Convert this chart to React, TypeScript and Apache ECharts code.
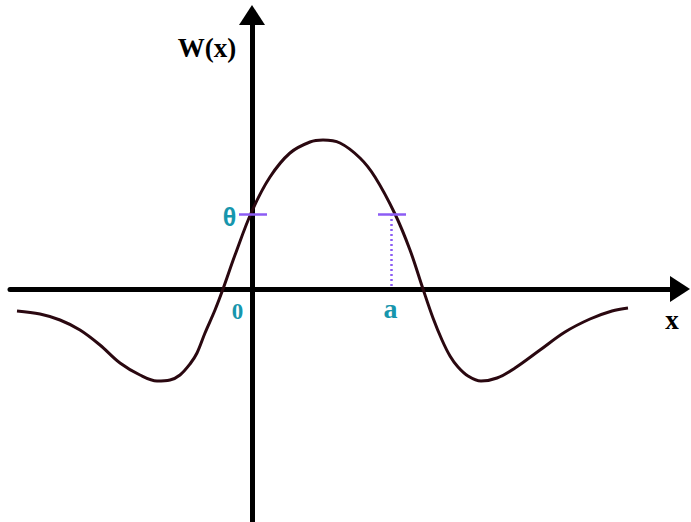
import React, { useEffect, useRef } from "react";
import * as echarts from "echarts";

// Curve samples: x relative to origin, y above the x axis (picture units)
const curveX = [-235, -212, -192, -172, -152, -132, -112, -95, -82, -72, -62, -55, -47, -37, -29, -17, 0, 18, 38, 58, 71, 88, 108, 123, 143, 158, 171, 181, 190, 198, 206, 216, 229, 245, 263, 288, 313, 338, 360, 376];
const curveY = [-22, -25, -31, -41, -56, -74, -86, -92, -91, -86, -75, -64, -44, -21, 0, 34, 78, 112, 136, 147, 149, 146, 131, 112, 75, 39, 0, -29, -51, -67, -78, -87, -92, -89, -79, -61, -43, -30, -22, -19];
const thetaLevel = 75;
const aPosition = 139;
const tickHalf = 13;

export default function App() {
  const ref = useRef<HTMLDivElement>(null);
  useEffect(() => {
    if (!ref.current) return;
    const chart = echarts.init(ref.current, null, { renderer: "svg" });
    const data = curveX.map((x, i) => [x, curveY[i]]);
    const purple = "#8c5cf4";
    const teal = "#1796ad";
    chart.setOption({
      animation: false,
      backgroundColor: "#ffffff",
      grid: { left: 10, right: 11, top: 15, bottom: 0, containLabel: false },
      xAxis: {
        type: "value",
        min: -242,
        max: 428,
        axisLine: {
          show: true,
          onZero: true,
          symbol: ["none", "triangle"],
          symbolSize: [26, 20],
          lineStyle: { color: "#000", width: 5 },
        },
        axisTick: { show: false },
        axisLabel: { show: false },
        splitLine: { show: false },
      },
      yAxis: {
        type: "value",
        min: -233,
        max: 274,
        axisLine: {
          show: true,
          onZero: true,
          symbol: ["none", "triangle"],
          symbolSize: [26, 20],
          lineStyle: { color: "#000", width: 5 },
        },
        axisTick: { show: false },
        axisLabel: { show: false },
        splitLine: { show: false },
      },
      series: [
        {
          type: "line",
          data,
          smooth: 0.35,
          showSymbol: false,
          z: 1,
          lineStyle: { color: "#2a0810", width: 3 },
          markLine: {
            silent: true,
            symbol: "none",
            label: { show: false },
            data: [
              [
                { coord: [-tickHalf, thetaLevel], lineStyle: { color: purple, width: 2.5, type: "solid" } },
                { coord: [tickHalf + 2, thetaLevel] },
              ],
              [
                { coord: [aPosition - tickHalf, thetaLevel], lineStyle: { color: purple, width: 2.5, type: "solid" } },
                { coord: [aPosition + tickHalf + 2, thetaLevel] },
              ],
              [
                { coord: [aPosition, thetaLevel], lineStyle: { color: purple, width: 2.5, type: [2, 3] } },
                { coord: [aPosition, 0] },
              ],
            ],
          },
        },
      ],
      graphic: [
        {
          type: "text",
          x: 207,
          y: 48,
          style: {
            text: "W(x)",
            font: "bold 27px 'Liberation Serif', serif",
            fill: "#000",
            align: "center",
            verticalAlign: "middle",
          },
        },
        {
          type: "text",
          x: 672,
          y: 320,
          style: {
            text: "x",
            font: "bold 27px 'Liberation Serif', serif",
            fill: "#000",
            align: "center",
            verticalAlign: "middle",
          },
        },
        {
          type: "text",
          x: 237.5,
          y: 311,
          style: {
            text: "0",
            font: "bold 23px 'Liberation Serif', serif",
            fill: teal,
            align: "center",
            verticalAlign: "middle",
          },
        },
        {
          type: "text",
          x: 390.5,
          y: 308,
          style: {
            text: "a",
            font: "bold 28px 'Liberation Serif', serif",
            fill: teal,
            align: "center",
            verticalAlign: "middle",
          },
        },
        {
          type: "text",
          x: 229.5,
          y: 217,
          style: {
            text: "θ",
            font: "bold 25px 'Liberation Sans', sans-serif",
            fill: teal,
            align: "center",
            verticalAlign: "middle",
          },
        },
      ],
    });
    return () => chart.dispose();
  }, []);
  return (
    <div
      ref={ref}
      style={{ position: "fixed", left: 0, top: 0, width: 691, height: 522, background: "#fff" }}
    />
  );
}
